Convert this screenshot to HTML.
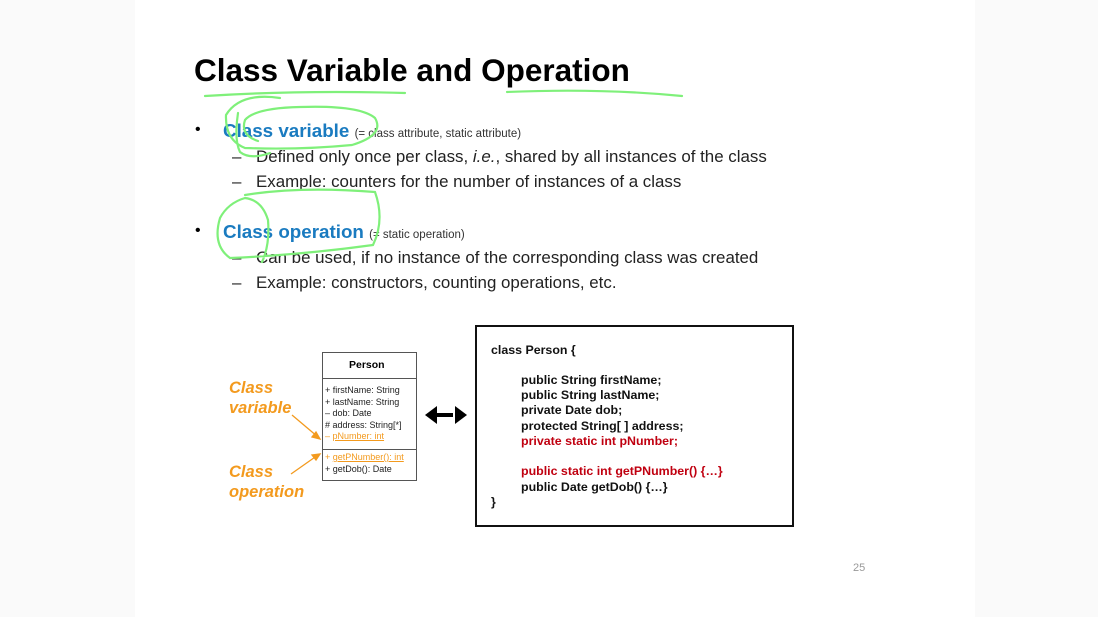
<!DOCTYPE html>
<html><head><style>
body{margin:0;width:1098px;height:617px;background:#fff;position:relative;overflow:hidden;font-family:"Liberation Sans",Arial,sans-serif}
.a{position:absolute;white-space:nowrap}
.t{font-size:31.5px;font-weight:bold;color:#000}
.b{font-size:18.8px;font-weight:bold;color:#1a7bc0}
.s{font-size:11.5px;color:#333}
.l{font-size:16.9px;color:#222}
.c{font-size:12.4px;font-weight:bold;color:#111}
.r{color:#c00010}
.u{font-size:9px;color:#222;line-height:11.5px}
.o{font-size:16.5px;font-weight:bold;font-style:italic;color:#f39a1e;line-height:20px}
</style></head><body>
<div class="a" style="left:0;top:0;width:135px;height:617px;background:#fafafa"></div>
<div class="a" style="left:975px;top:0;width:123px;height:617px;background:#fafafa"></div>
<div class="a t" style="left:194px;top:52px">Class Variable and Operation</div>
<div class="a" style="left:195px;top:121px;font-size:16px">•</div>
<div class="a b" style="left:223px;top:120px">Class variable <span class="s" style="font-weight:normal">(= class attribute, static attribute)</span></div>
<div class="a l" style="left:232px;top:147px">–</div><div class="a l" style="left:256px;top:147px">Defined only once per class, <i>i.e.</i>, shared by all instances of the class</div>
<div class="a l" style="left:232px;top:172px">–</div><div class="a l" style="left:256px;top:172px">Example: counters for the number of instances of a class</div>
<div class="a" style="left:195px;top:222px;font-size:16px">•</div>
<div class="a b" style="left:223px;top:221px">Class operation <span class="s" style="font-weight:normal">(= static operation)</span></div>
<div class="a l" style="left:232px;top:248px">–</div><div class="a l" style="left:256px;top:248px">Can be used, if no instance of the corresponding class was created</div>
<div class="a l" style="left:232px;top:273px">–</div><div class="a l" style="left:256px;top:273px">Example: constructors, counting operations, etc.</div>

<div class="a" style="left:322px;top:352px;width:93px;height:127px;border:1px solid #555;background:#fff"></div>
<div class="a" style="left:322px;top:378px;width:95px;height:1px;background:#555"></div>
<div class="a" style="left:322px;top:449px;width:95px;height:1px;background:#555"></div>
<div class="a" style="left:349px;top:359px;font-size:10.5px;font-weight:bold">Person</div>
<div class="a u" style="left:325px;top:385px">+ firstName: String<br>+ lastName: String<br>– dob: Date<br># address: String[*]<br><span style="color:#f39a1e">– <u>pNumber: int</u></span></div>
<div class="a u" style="left:325px;top:452px"><span style="color:#f39a1e">+ <u>getPNumber(): int</u></span><br>+ getDob(): Date</div>
<div class="a o" style="left:229px;top:378px">Class<br>variable</div>
<div class="a o" style="left:229px;top:462px">Class<br>operation</div>

<svg class="a" style="left:0;top:0" width="1098" height="617">
<g stroke="#f39a1e" stroke-width="1.3" fill="#f39a1e">
<line x1="292" y1="415" x2="318" y2="437"/><polygon points="320,439 312,437 316,432"/>
<line x1="291" y1="474" x2="318" y2="455"/><polygon points="320,454 316,460 312,455"/>
</g>
<g fill="#000"><rect x="433" y="413" width="20" height="4"/><polygon points="425,415 437,406 437,424"/><polygon points="467,415 455,406 455,424"/></g>
<g fill="none" stroke="#7ff07a" stroke-width="2.2" stroke-linecap="round">
<path d="M205,96 Q300,90 405,93"/><path d="M507,92 Q600,88 682,96"/>
<path d="M280,98 Q240,92 226,115 Q225,140 245,148 Q300,150 352,145 Q385,135 375,118 Q360,105 300,107 Q255,108 245,120 Q240,135 258,141"/>
<path d="M238,113 Q234,140 240,152 Q250,160 270,153"/>
<path d="M245,195 Q300,186 375,192 Q385,220 373,245 Q300,255 230,258 Q212,245 220,218 Q228,203 245,198 Q262,200 268,220 Q270,245 262,262"/>
</g>
</svg>

<div class="a" style="left:475px;top:325px;width:315px;height:198px;border:2px solid #111"></div>
<div class="a c" style="left:491px;top:343px">class Person {</div>
<div class="a c" style="left:521px;top:373px;line-height:15.2px">public String firstName;<br>public String lastName;<br>private Date dob;<br>protected String[ ] address;<br><span class="r">private static int pNumber;</span></div>
<div class="a c" style="left:521px;top:464px;line-height:15.5px"><span class="r">public static int getPNumber() {…}</span><br>public Date getDob() {…}</div>
<div class="a c" style="left:491px;top:495px">}</div>
<div class="a" style="left:853px;top:562px;font-size:11px;color:#999">25</div>
</body></html>
